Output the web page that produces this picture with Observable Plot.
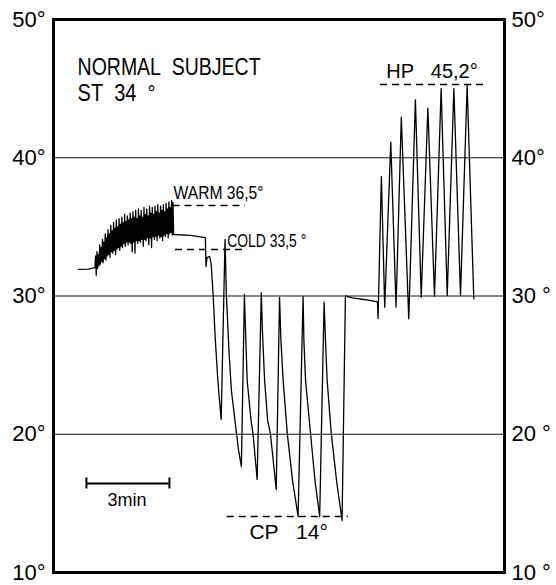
<!DOCTYPE html>
<html><head><meta charset="utf-8">
<script src="https://cdn.jsdelivr.net/npm/d3@7"></script>
<script src="https://cdn.jsdelivr.net/npm/@observablehq/plot@0.6"></script>
<style>body{margin:0;background:#fff}</style>
</head><body><div id="chart"></div>
<script>
// time in minutes, temperature in °C
const restTrace = [[0.90,31.92],[1.26,31.95],[1.50,32.06]];
const warmBurst = [
[1.520,32.9],[1.545,31.5],[1.570,33.2],[1.595,32.0],[1.620,33.0],[1.645,32.2],[1.670,33.7],[1.695,32.3],[1.720,33.5],[1.745,32.5],
[1.770,34.1],[1.795,32.4],[1.820,33.9],[1.845,32.7],[1.870,34.5],[1.895,32.6],[1.920,34.2],[1.945,32.9],[1.970,34.8],[1.995,33.0],
[2.020,34.5],[2.045,32.8],[2.070,35.1],[2.095,33.2],[2.120,34.7],[2.145,33.1],[2.170,35.3],[2.195,33.3],[2.220,34.9],[2.245,33.0],
[2.270,35.5],[2.295,33.4],[2.320,35.0],[2.345,33.5],[2.370,35.6],[2.395,33.3],[2.420,35.2],[2.445,33.6],[2.470,35.7],[2.495,33.5],
[2.520,35.3],[2.545,33.8],[2.570,35.9],[2.595,33.6],[2.620,35.4],[2.645,33.9],[2.670,35.8],[2.695,33.7],[2.720,35.5],[2.745,33.9],
[2.770,36.0],[2.795,33.8],[2.820,35.6],[2.845,33.2],[2.870,36.1],[2.895,33.9],[2.920,35.7],[2.945,33.1],[2.970,36.2],[2.995,34.0],
[3.020,35.6],[3.045,33.8],[3.070,36.3],[3.095,34.0],[3.120,35.8],[3.145,33.9],[3.170,36.2],[3.195,34.1],[3.220,35.7],[3.245,33.6],
[3.270,36.4],[3.295,34.1],[3.320,35.9],[3.345,34.0],[3.370,36.3],[3.395,34.2],[3.420,35.8],[3.445,33.7],[3.470,36.5],[3.495,34.2],
[3.520,36.0],[3.545,33.5],[3.570,36.4],[3.595,34.3],[3.620,35.9],[3.645,34.1],[3.670,36.5],[3.695,34.3],[3.720,36.1],[3.745,34.0],
[3.770,36.6],[3.795,34.4],[3.820,36.0],[3.845,34.2],[3.870,36.5],[3.895,34.3],[3.920,36.2],[3.945,34.0],[3.970,36.6],[3.995,34.4],
[4.020,36.1],[4.045,34.3],[4.070,36.7],[4.095,34.5],[4.120,36.3],[4.145,34.2],[4.170,36.8],[4.195,34.5],[4.220,36.4],[4.245,34.6],
[4.270,36.9],[4.295,34.4],[4.320,36.76]
];
const coldTrace = [
[4.34,34.45],[4.95,34.38],[5.49,34.23],[5.51,32.13],[5.55,32.78],[5.64,32.86],[5.69,32.42],[5.71,31.99],
[5.77,30.04],[5.85,26.78],[5.94,23.89],[6.00,22.44],[6.06,21.07],
[6.20,34.09],[6.25,30.04],[6.34,26.06],[6.43,23.16],[6.58,20.63],[6.69,18.82],[6.79,17.67],
[6.90,30.11],[6.94,27.50],[7.00,23.89],[7.14,20.99],[7.21,20.05],[7.36,16.73],
[7.51,30.25],[7.55,27.50],[7.63,23.89],[7.74,20.99],[7.84,20.05],[8.05,16.00],
[8.17,29.89],[8.22,26.78],[8.30,23.89],[8.45,20.05],[8.64,16.65],[8.84,14.05],
[9.02,29.96],[9.05,26.78],[9.11,23.89],[9.29,20.05],[9.45,16.65],[9.62,14.05],
[9.78,29.55],[9.83,26.78],[9.89,23.89],[10.04,20.05],[10.23,16.65],[10.43,13.76],
[10.55,30.00],[10.81,29.86],[11.28,29.73],[11.71,29.57]
];
const hotTrace = [
[11.73,28.37],[11.85,38.64],[11.97,29.19],[12.19,41.12],[12.38,29.19],[12.57,42.93],[12.84,28.35],
[13.08,44.19],[13.29,29.91],[13.53,43.58],[13.77,29.99],[14.01,44.99],[14.23,30.04],[14.47,44.99],
[14.71,30.04],[14.95,45.23],[15.19,29.80]
];
const setpointNames = ["WARM","COLD","CP","HP"];
const setpointStart = [4.32, 4.41, 6.28, 11.82];
const setpointEnd   = [6.94, 6.87, 10.66, 15.72];
const setpointTemp  = [36.55, 33.36, 14.05, 45.3];
const gridTemps = [20, 30, 40];
const tickTemps = [10, 20, 30, 40, 50];
const leftTickLabels  = ["10°","20°","30°","40°","50°"];
const rightTickLabels = ["10 °","20 °","30 °","40°","50°"];
const scaleBarMinutes = [1.19, 4.19];
const scaleBarTemp = 16.44;
const labels = {
  subject: "NORMAL\u00A0\u00A0SUBJECT",
  skin: "ST\u00A0\u00A034\u00A0\u00A0°",
  warm: "WARM 36,5°",
  cold: "COLD 33,5 °",
  hp: "HP\u00A0\u00A0\u00A045,2°",
  cp: "CP\u00A0\u00A0\u00A014°",
  bar: "3min"
};

const trace = [...restTrace, ...warmBurst, ...coldTrace, ...hotTrace].map(([t, temp]) => ({t, temp}));
const setpoints = setpointNames.map((name, i) => ({name, t0: setpointStart[i], t1: setpointEnd[i], temp: setpointTemp[i]}));

const font = "'Liberation Sans', Arial, sans-serif";

const chart = Plot.plot({
  width: 556, height: 585,
  marginLeft: 53, marginRight: 52, marginTop: 19, marginBottom: 13,
  x: {domain: [0, 16.3], axis: null},
  y: {domain: [10, 50], axis: null},
  style: {fontFamily: font, fontSize: "22px", color: "black", background: "white"},
  marks: [
    Plot.ruleY(gridTemps, {stroke: "#111", strokeWidth: 1}),
    Plot.axisY({anchor: "left", ticks: tickTemps, tickSize: 0, tickPadding: 8, fontSize: 22, label: null,
      tickFormat: d => leftTickLabels[tickTemps.indexOf(d)]}),
    Plot.axisY({anchor: "right", ticks: tickTemps, tickSize: 0, tickPadding: 7, fontSize: 22, label: null,
      tickFormat: d => rightTickLabels[tickTemps.indexOf(d)]}),
    Plot.ruleY(setpoints, {y: "temp", x1: "t0", x2: "t1", stroke: "black", strokeWidth: 1.6, strokeDasharray: "7,5"}),
    Plot.line(trace, {x: "t", y: "temp", stroke: "black", strokeWidth: 1.3}),
    Plot.ruleY([scaleBarTemp], {x1: scaleBarMinutes[0], x2: scaleBarMinutes[1], stroke: "black", strokeWidth: 2}),
    Plot.ruleX(scaleBarMinutes, {y1: scaleBarTemp - 0.4, y2: scaleBarTemp + 0.4, stroke: "black", strokeWidth: 2}),
    Plot.text([labels.subject], {x: 0.87, y: 47.18, text: d => d, textAnchor: "start", lineAnchor: "top", fontSize: 23}),
    Plot.text([labels.skin], {x: 0.87, y: 45.30, text: d => d, textAnchor: "start", lineAnchor: "top", fontSize: 23}),
    Plot.text([labels.warm], {x: 4.34, y: 37.99, text: d => d, textAnchor: "start", lineAnchor: "top", fontSize: 19}),
    Plot.text([labels.cold], {x: 6.28, y: 34.54, text: d => d, textAnchor: "start", lineAnchor: "top", fontSize: 19}),
    Plot.text([labels.hp], {x: 12.03, y: 46.82, text: d => d, textAnchor: "start", lineAnchor: "top", fontSize: 20}),
    Plot.text([labels.cp], {x: 7.08, y: 13.47, text: d => d, textAnchor: "start", lineAnchor: "top", fontSize: 21}),
    Plot.text([labels.bar], {x: 1.95, y: 15.71, text: d => d, textAnchor: "start", lineAnchor: "top", fontSize: 18}),
    Plot.frame({stroke: "black", strokeWidth: 3})
  ]
});
// condense the hand-lettered labels to their drawn widths
const condensed = new Map([[labels.subject, 183], [labels.skin, 78], [labels.warm, 90], [labels.cold, 79]]);
d3.select(chart).selectAll("text").each(function() {
  const w = condensed.get(this.textContent);
  if (w) { this.setAttribute("textLength", w); this.setAttribute("lengthAdjust", "spacingAndGlyphs"); }
});
document.getElementById("chart").appendChild(chart);
</script>
</body></html>
